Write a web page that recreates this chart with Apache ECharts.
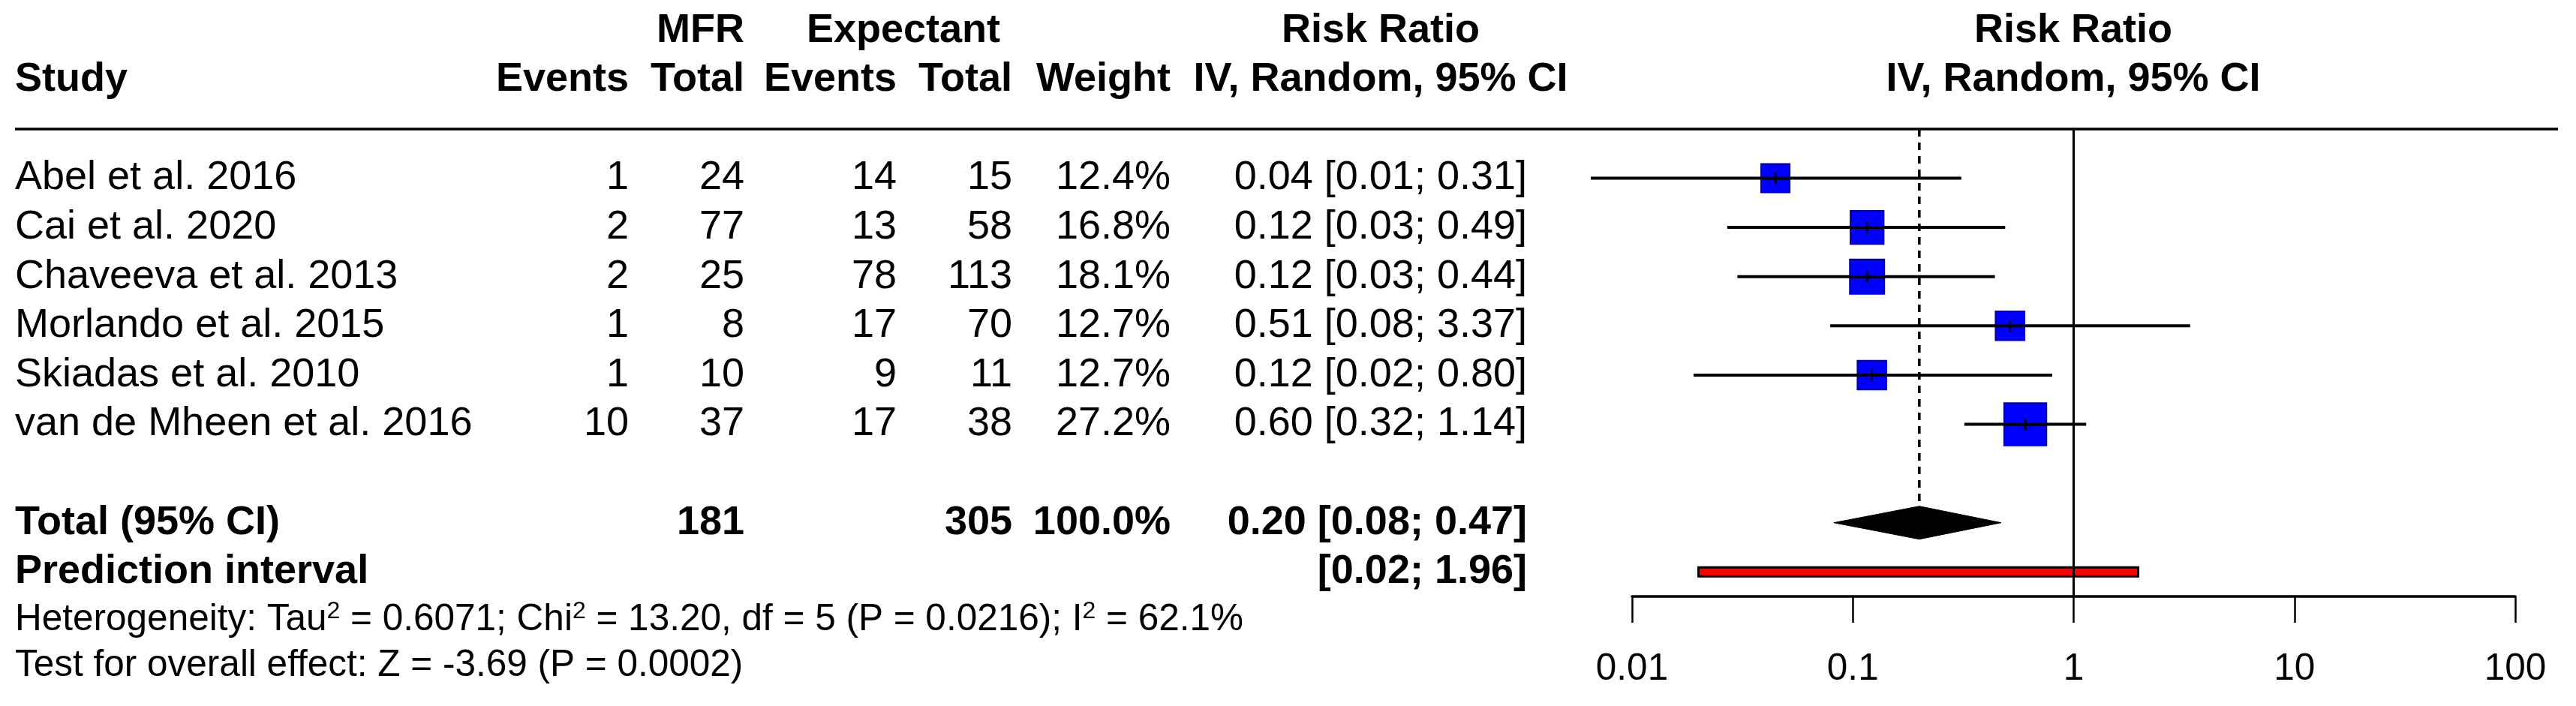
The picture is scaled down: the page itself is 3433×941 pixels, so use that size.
<!DOCTYPE html>
<html>
<head>
<meta charset="utf-8">
<script src="https://cdn.jsdelivr.net/npm/echarts@6/dist/echarts.min.js"></script>
<style>
html,body{margin:0;padding:0;background:#fff;}
#chart{width:3433px;height:941px;}
</style>
</head>
<body>
<div id="chart"></div>
<script>
// ---------------- DATA ----------------
const studies   = ['Abel et al. 2016','Cai et al. 2020','Chaveeva et al. 2013','Morlando et al. 2015','Skiadas et al. 2010','van de Mheen et al. 2016'];
const mfrEvents = [1, 2, 2, 1, 1, 10];
const mfrTotal  = [24, 77, 25, 8, 10, 37];
const expEvents = [14, 13, 78, 17, 9, 17];
const expTotal  = [15, 58, 113, 70, 11, 38];
const weights   = [12.4, 16.8, 18.1, 12.7, 12.7, 27.2];
const weightText= ['12.4%','16.8%','18.1%','12.7%','12.7%','27.2%'];
const rrText    = ['0.04 [0.01; 0.31]','0.12 [0.03; 0.49]','0.12 [0.03; 0.44]','0.51 [0.08; 3.37]','0.12 [0.02; 0.80]','0.60 [0.32; 1.14]'];
const rr        = [0.0446, 0.116, 0.116, 0.515, 0.122, 0.604];
const ciLow     = [0.0065, 0.027, 0.030, 0.079, 0.019, 0.32];
const ciHigh    = [0.31, 0.49, 0.44, 3.37, 0.80, 1.14];

const totalLabel   = 'Total (95% CI)';
const totalMfr     = '181';
const totalExp     = '305';
const totalWeight  = '100.0%';
const totalRRText  = '0.20 [0.08; 0.47]';
const totalRR      = [0.20, 0.082, 0.47];   // estimate, lower, upper
const predLabel    = 'Prediction interval';
const predText     = '[0.02; 1.96]';
const predInterval = [0.02, 1.96];
const nullEffect   = 1;

const hetText  = '{n|Heterogeneity: Tau}{s|2}{n| = 0.6071; Chi}{s|2}{n| = 13.20, df = 5 (P = 0.0216); I}{s|2}{n| = 62.1%}';
const testText = 'Test for overall effect: Z = -3.69 (P = 0.0002)';

const headerTop    = ['MFR','Expectant','Risk Ratio','Risk Ratio'];
const headerBottom = ['Study','Events','Total','Events','Total','Weight','IV, Random, 95% CI','IV, Random, 95% CI'];
const tickLabels   = ['0.01','0.1','1','10','100'];

// ---------------- LAYOUT ----------------
const FONT = '"Liberation Sans", Arial, Helvetica, sans-serif';
const FS = 54, FS_SMALL = 49.5;
const ROW0 = 171.9, ROWH = 65.6, H = 941;
const col = {study:20, mfrEv:838, mfrTot:992, expEv:1195, expTot:1349, weight:1560, ci:2035, ciHead:1840, expHead:1204, forest:2763};

const cells = [];
function cell(x, row, text, align, bold, size, rich){
  cells.push({x, row, text, align, bold, size: size || FS, rich});
}
// headers
cell(col.mfrTot, -2, headerTop[0], 'right', true);
cell(col.expHead, -2, headerTop[1], 'center', true);
cell(col.ciHead, -2, headerTop[2], 'center', true);
cell(col.forest, -2, headerTop[3], 'center', true);
cell(col.study, -1, headerBottom[0], 'left', true);
cell(col.mfrEv, -1, headerBottom[1], 'right', true);
cell(col.mfrTot, -1, headerBottom[2], 'right', true);
cell(col.expEv, -1, headerBottom[3], 'right', true);
cell(col.expTot, -1, headerBottom[4], 'right', true);
cell(col.weight, -1, headerBottom[5], 'right', true);
cell(col.ciHead, -1, headerBottom[6], 'center', true);
cell(col.forest, -1, headerBottom[7], 'center', true);
// studies
studies.forEach((s, i) => {
  const r = i + 1;
  cell(col.study, r, s, 'left', false);
  cell(col.mfrEv, r, String(mfrEvents[i]), 'right', false);
  cell(col.mfrTot, r, String(mfrTotal[i]), 'right', false);
  cell(col.expEv, r, String(expEvents[i]), 'right', false);
  cell(col.expTot, r, String(expTotal[i]), 'right', false);
  cell(col.weight, r, weightText[i], 'right', false);
  cell(col.ci, r, rrText[i], 'right', false);
});
// total
cell(col.study, 8, totalLabel, 'left', true);
cell(col.mfrTot, 8, totalMfr, 'right', true);
cell(col.expTot, 8, totalExp, 'right', true);
cell(col.weight, 8, totalWeight, 'right', true);
cell(col.ci, 8, totalRRText, 'right', true);
// prediction
cell(col.study, 9, predLabel, 'left', true);
cell(col.ci, 9, predText, 'right', true);
// stats
cell(col.study, 9.98, hetText, 'left', false, FS_SMALL, true);
cell(col.study, 10.9, testText, 'left', false, FS_SMALL);

const chart = echarts.init(document.getElementById('chart'), null, {renderer:'canvas'});

const forestData = studies.map((s, i) => [rr[i], i + 1, ciLow[i], ciHigh[i], weights[i]]);

const option = {
  animation: false,
  backgroundColor: '#ffffff',
  grid: [
    {left: 0, top: 0, width: 3433, height: H},
    {left: 2175, top: ROW0, width: 1177, height: ROWH * 9.5}
  ],
  xAxis: [
    {gridIndex: 0, type: 'value', min: 0, max: 3433, show: false},
    {gridIndex: 1, type: 'log', logBase: 10, min: 0.01, max: 100, splitNumber: 4, position: 'bottom',
     axisLine: {show: true, onZero: false, lineStyle: {color: '#000', width: 3.5}},
     axisTick: {show: true, length: 35, lineStyle: {color: '#000', width: 2.5}},
     axisLabel: {show: true, color: '#000', fontSize: FS_SMALL, fontFamily: FONT, margin: 72,
       formatter: v => tickLabels[Math.round(Math.log10(v)) + 2]},
     splitLine: {show: false}, minorTick: {show: false}}
  ],
  yAxis: [
    {gridIndex: 0, type: 'value', inverse: true, min: -ROW0 / ROWH, max: (H - ROW0) / ROWH, show: false},
    {gridIndex: 1, type: 'value', inverse: true, min: 0, max: 9.5, show: false}
  ],
  series: [
    // table text
    {
      type: 'custom', xAxisIndex: 0, yAxisIndex: 0, clip: false, silent: true,
      data: cells.map((c, i) => [c.x, c.row, i]),
      encode: {x: 0, y: 1},
      renderItem: (params, api) => {
        const c = cells[api.value(2)];
        const p = api.coord([c.x, c.row]);
        const style = {x: p[0], y: p[1], text: c.text, align: c.align, verticalAlign: 'middle', fill: '#000'};
        if (c.rich) {
          style.fontSize = c.size; style.fontFamily = FONT;
          style.rich = {
            n: {fontSize: c.size, fontFamily: FONT, lineHeight: 54, fill: '#000'},
            s: {fontSize: 32, fontFamily: FONT, lineHeight: 20, verticalAlign: 'top', fill: '#000'}
          };
        } else {
          style.font = (c.bold ? 'bold ' : '') + c.size + 'px ' + FONT;
        }
        return {type: 'text', style};
      },
      z: 5
    },
    // header rule
    {
      type: 'custom', xAxisIndex: 0, yAxisIndex: 0, clip: false, silent: true,
      data: [[20, 0, 3409]],
      renderItem: (params, api) => {
        const a = api.coord([api.value(0), api.value(1)]);
        const b = api.coord([api.value(2), api.value(1)]);
        return {type: 'line', shape: {x1: a[0], y1: a[1], x2: b[0], y2: b[1]}, style: {stroke: '#000', lineWidth: 3.5}};
      }
    },
    // study squares + CI
    {
      type: 'custom', xAxisIndex: 1, yAxisIndex: 1, clip: false, silent: true,
      data: forestData, encode: {x: 0, y: 1},
      renderItem: (params, api) => {
        const row = api.value(1);
        const c = api.coord([api.value(0), row]);
        const l = api.coord([api.value(2), row]);
        const h = api.coord([api.value(3), row]);
        const sz = 10.8 * Math.sqrt(api.value(4));
        return {type: 'group', children: [
          {type: 'rect', shape: {x: c[0] - sz / 2, y: c[1] - sz / 2, width: sz, height: sz},
           style: {fill: '#0000ff', stroke: '#0000b0', lineWidth: 2}},
          {type: 'line', shape: {x1: l[0], y1: c[1], x2: h[0], y2: c[1]}, style: {stroke: '#000', lineWidth: 4}},
          {type: 'line', shape: {x1: c[0], y1: c[1] - 8, x2: c[0], y2: c[1] + 8}, style: {stroke: '#000', lineWidth: 3}}
        ]};
      },
      z: 3
    },
    // pooled diamond
    {
      type: 'custom', xAxisIndex: 1, yAxisIndex: 1, clip: false, silent: true,
      data: [[totalRR[0], 8, totalRR[1], totalRR[2]]], encode: {x: 0, y: 1},
      renderItem: (params, api) => {
        const row = api.value(1);
        const c = api.coord([api.value(0), row]);
        const l = api.coord([api.value(2), row]);
        const h = api.coord([api.value(3), row]);
        const hh = 22;
        return {type: 'polygon', shape: {points: [[l[0], c[1]], [c[0], c[1] - hh], [h[0], c[1]], [c[0], c[1] + hh]]},
          style: {fill: '#000', stroke: '#000', lineWidth: 1}};
      },
      z: 3
    },
    // prediction interval
    {
      type: 'custom', xAxisIndex: 1, yAxisIndex: 1, clip: false, silent: true,
      data: [[predInterval[0], 9, predInterval[1]]], encode: {x: 0, y: 1},
      renderItem: (params, api) => {
        const row = api.value(1);
        const l = api.coord([api.value(0), row]);
        const h = api.coord([api.value(2), row]);
        return {type: 'rect', shape: {x: l[0], y: l[1] - 6, width: h[0] - l[0], height: 12},
          style: {fill: '#ff0000', stroke: '#000', lineWidth: 3}};
      },
      z: 3
    },
    // reference lines (null effect solid, pooled dashed)
    {
      type: 'custom', xAxisIndex: 1, yAxisIndex: 1, clip: false, silent: true,
      data: [[nullEffect, 0, 9.5, 0], [totalRR[0], 0, 8, 1]], encode: {x: 0, y: 1},
      renderItem: (params, api) => {
        const dashed = api.value(3) === 1;
        const a = api.coord([api.value(0), api.value(1)]);
        const b = api.coord([api.value(0), api.value(2)]);
        const y2 = dashed ? b[1] - 22 : b[1];
        return {type: 'line', shape: {x1: a[0], y1: a[1], x2: b[0], y2: y2},
          style: {stroke: '#000', lineWidth: dashed ? 3.5 : 3, lineDash: dashed ? [10, 8] : null}};
      },
      z: 4
    }
  ]
};
chart.setOption(option);
</script>
</body>
</html>
